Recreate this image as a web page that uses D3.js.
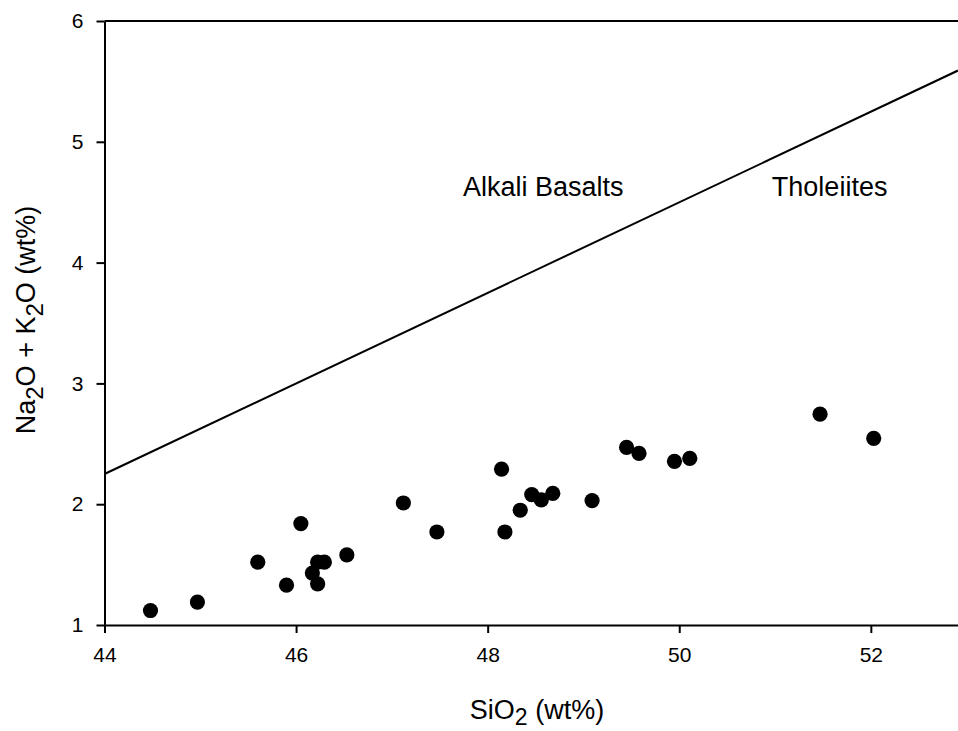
<!DOCTYPE html>
<html>
<head>
<meta charset="utf-8">
<script src="https://cdn.jsdelivr.net/npm/d3@7"></script>
<style>
  html, body { margin: 0; padding: 0; background: #fff; }
  svg { display: block; }
  text { font-family: "Liberation Sans", Arial, Helvetica, sans-serif; fill: #000; }
</style>
</head>
<body>
<svg id="chart" width="958" height="731"></svg>
<script>
// ---- data ----
const sio2 = [44.48, 44.97, 45.60, 45.90, 46.05, 46.17, 46.225, 46.295, 46.225, 46.53,
              47.12, 47.47, 48.145, 48.18, 48.34, 48.46, 48.56, 48.68, 49.09,
              49.45, 49.58, 49.95, 50.11, 51.47, 52.03];
const alkalis = [1.12, 1.19, 1.52, 1.33, 1.84, 1.43, 1.52, 1.52, 1.34, 1.58,
                 2.01, 1.77, 2.29, 1.77, 1.95, 2.08, 2.035, 2.09, 2.03,
                 2.47, 2.42, 2.355, 2.38, 2.745, 2.545];
const dividerSiO2 = [44, 52.91];
const dividerAlk = [2.25, 5.59];
const xTicks = [44, 46, 48, 50, 52];
const yTicks = [1, 2, 3, 4, 5, 6];
const xDomain = [44, 52.91];
const yDomain = [1, 6];
const regionNames = ["Alkali Basalts", "Tholeiites"];
const regionSiO2 = [48.58, 51.57];
const regionAlk = [4.55, 4.55];

// ---- layout ----
const svg = d3.select("#chart");
const mLeft = 104.5, mRight = 958, mTop = 21, mBottom = 625;
const x = d3.scaleLinear().domain(xDomain).range([mLeft, mRight]);
const y = d3.scaleLinear().domain(yDomain).range([mBottom, mTop]);

// frame top line
svg.append("line")
  .attr("x1", x(xDomain[0])).attr("x2", x(xDomain[1]))
  .attr("y1", y(yDomain[1])).attr("y2", y(yDomain[1]))
  .attr("stroke", "#000").attr("stroke-width", 2);

// axes
const xAxis = d3.axisBottom(x).tickValues(xTicks).tickFormat(d3.format("d"))
  .tickSize(8).tickPadding(14).tickSizeOuter(0);
const yAxis = d3.axisLeft(y).tickValues(yTicks).tickFormat(d3.format("d"))
  .tickSize(8).tickPadding(13).tickSizeOuter(0);

const gx = svg.append("g").attr("transform", `translate(0,${mBottom})`).call(xAxis);
const gy = svg.append("g").attr("transform", `translate(${mLeft},0)`).call(yAxis);
[gx, gy].forEach(g => {
  g.select(".domain").attr("stroke", "#000").attr("stroke-width", 2);
  g.selectAll(".tick line").attr("stroke", "#000").attr("stroke-width", 2);
  g.selectAll(".tick text").style("font-size", "21px")
    .style("font-family", '"Liberation Sans", Arial, sans-serif').attr("fill", "#000");
});

// divider line
const line = d3.line().x(d => x(d[0])).y(d => y(d[1]));
svg.append("path")
  .datum(dividerSiO2.map((v, i) => [v, dividerAlk[i]]))
  .attr("d", line)
  .attr("fill", "none").attr("stroke", "#000").attr("stroke-width", 2);

// points
svg.append("g").selectAll("circle")
  .data(sio2.map((v, i) => [v, alkalis[i]]))
  .join("circle")
  .attr("cx", d => x(d[0])).attr("cy", d => y(d[1]))
  .attr("r", 7.6).attr("fill", "#000");

// region labels
svg.append("g").selectAll("text")
  .data(regionNames.map((n, i) => [n, regionSiO2[i], regionAlk[i]]))
  .join("text")
  .attr("x", d => x(d[1])).attr("y", d => y(d[2]))
  .attr("text-anchor", "middle")
  .style("font-size", "27px")
  .text(d => d[0]);

// x title
const xt = svg.append("text")
  .attr("x", 537).attr("y", 719)
  .attr("text-anchor", "middle").style("font-size", "27px");
xt.append("tspan").text("SiO");
xt.append("tspan").attr("dy", 6).style("font-size", "23px").text("2");
xt.append("tspan").attr("dy", -6).text(" (wt%)");

// y title
const yt = svg.append("text")
  .attr("transform", "translate(35,320) rotate(-90)")
  .attr("text-anchor", "middle").style("font-size", "27px");
yt.append("tspan").text("Na");
yt.append("tspan").attr("dy", 8).style("font-size", "24px").text("2");
yt.append("tspan").attr("dy", -8).text("O + K");
yt.append("tspan").attr("dy", 8).style("font-size", "24px").text("2");
yt.append("tspan").attr("dy", -8).text("O (wt%)");
</script>
</body>
</html>
